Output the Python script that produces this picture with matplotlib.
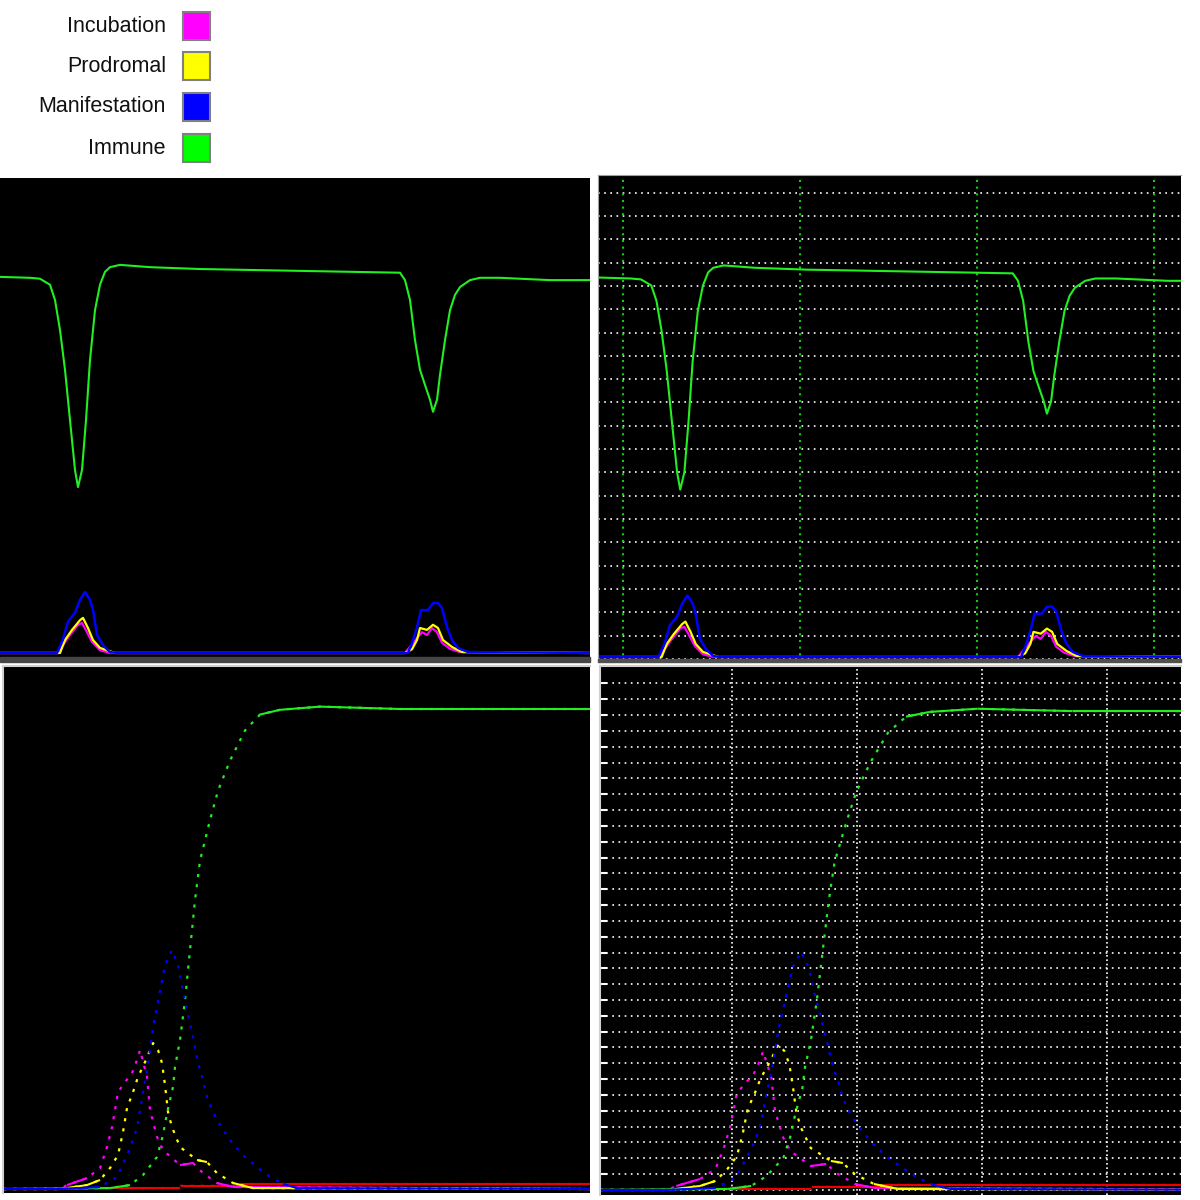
import numpy as np
import matplotlib
matplotlib.use('Agg')
from matplotlib import pyplot as plt
from matplotlib.patches import Rectangle

# legend
labels = ['Incubation', 'Prodromal', 'Manifestation', 'Immune']
colors = ['#ff00ff', '#ffff00', '#0000ff', '#00ff00']

# top panels: two outbreaks (x = day, y = % of population)
imm_top_x = [0, 30, 40, 50, 55, 60, 65, 70, 75, 78, 82, 86, 90, 95, 100, 105, 110, 120, 150, 200, 250, 300,
             350, 400, 405, 410, 415, 420, 425, 430, 433, 437, 440, 445, 450, 455, 460, 470, 480, 500, 550, 590]
imm_top_v = [81.4, 81.2, 81.0, 79.7, 76.4, 69.9, 61.3, 50.4, 39.6, 35.9, 39.6, 50.4, 63.4, 74.2, 79.7, 82.5,
             83.5, 84.0, 83.5, 83.1, 82.9, 82.7, 82.5, 82.3, 80.7, 76.4, 67.7, 61.3, 58.0, 54.8, 52.2, 54.8,
             60.2, 67.7, 74.2, 77.5, 79.2, 80.7, 81.2, 81.2, 80.7, 80.7]
man_top_x = [0, 57, 63, 68, 75, 80, 85, 90, 93, 97, 103, 110, 117,
             400, 408, 413, 417, 421, 428, 433, 438, 442, 447, 452, 458, 468, 590]
man_top_v = [0, 0, 3.0, 6.8, 8.7, 11.5, 13.2, 11.5, 9.3, 3.9, 1.7, 0.2, 0,
             0, 0, 2.8, 5.6, 9.3, 9.3, 10.8, 10.8, 9.7, 5.6, 2.8, 1.1, 0.2, 0]
pro_top_x = [0, 60, 65, 72, 80, 83, 88, 93, 100, 115,
             405, 412, 417, 420, 427, 433, 438, 443, 452, 462, 590]
pro_top_v = [0, 0, 2.8, 5.0, 7.1, 7.6, 5.4, 2.8, 1.1, 0,
             0, 0.8, 2.8, 5.4, 5.0, 6.1, 5.4, 2.8, 1.3, 0.2, 0]
inc_top_x = [0, 57, 63, 70, 78, 82, 87, 92, 100, 110,
             405, 413, 422, 427, 432, 437, 442, 450, 460, 590]
inc_top_v = [0, 0, 1.7, 3.9, 6.1, 6.5, 4.5, 2.4, 0.6, 0,
             0, 2.2, 4.5, 3.9, 5.4, 4.5, 2.2, 0.9, 0.2, 0]

# bottom panels: single outbreak
imm_bot_x = [3, 110, 130, 143, 157, 163, 167, 173, 175, 180, 185, 190, 195, 200, 210, 218, 230, 245, 260, 280,
             320, 400, 590]
imm_bot_v = [0, 0.06, 0.25, 0.88, 2.02, 3.40, 4.79, 6.43, 7.69, 9.39, 11.9, 15.06, 18.2, 20.7, 23.25, 25.1,
             27.0, 28.9, 29.9, 30.2, 30.4, 30.25, 30.25]
man_bot_x = [3, 60, 100, 117, 130, 137, 143, 147, 150, 153, 160, 165, 172, 178, 183, 187, 193, 197, 200, 203,
             207, 212, 220, 230, 243, 257, 270, 283, 297, 590]
man_bot_v = [0, 0, 0.13, 0.76, 2.58, 3.84, 6.11, 7.5, 8.76, 10.2, 12.5, 14.1, 15.06, 14.1, 12.5, 11.3, 9.58,
             8.25, 7.5, 6.87, 5.8, 4.98, 4.03, 3.09, 2.14, 1.39, 0.76, 0.32, 0.06, 0]
pro_bot_x = [3, 60, 87, 100, 110, 118, 123, 127, 133, 138, 145, 153, 158, 162, 165, 168, 172, 180, 197, 207,
             217, 233, 253, 590]
pro_bot_v = [0, 0, 0.25, 0.57, 1.32, 2.14, 3.59, 5.1, 6.11, 7.06, 8.0, 9.2, 8.76, 7.94, 6.55, 4.85, 3.9, 2.65,
             1.83, 1.7, 1.0, 0.38, 0.06, 0]
inc_bot_x = [3, 60, 67, 87, 100, 107, 112, 115, 118, 125, 132, 137, 140, 147, 150, 157, 163, 180, 193, 203,
             217, 233, 590]
inc_bot_v = [0, 0, 0.25, 0.69, 1.32, 2.65, 3.9, 4.98, 6.11, 6.74, 7.3, 8.13, 8.76, 7.06, 4.98, 3.28, 2.46,
             1.51, 1.64, 1.0, 0.38, 0.13, 0]
dead_bot_x = [100, 180, 181, 240, 241, 590]
dead_bot_v = [0.06, 0.06, 0.2, 0.2, 0.32, 0.32]

W = 1200.0
fig = plt.figure(figsize=(12, 12), dpi=100)
fig.patch.set_facecolor('white')


def box(x0, y0, x1, y1):
    # pixel box -> axes
    ax = fig.add_axes([x0 / W, 1 - y1 / W, (x1 - x0) / W, (y1 - y0) / W])
    ax.set_facecolor('black')
    ax.set_xticks([])
    ax.set_yticks([])
    for s in ax.spines.values():
        s.set_visible(False)
    return ax


def draw_top(ax):
    ax.plot(inc_top_x, inc_top_v, color=colors[0], lw=1.6)
    ax.plot(pro_top_x, pro_top_v, color=colors[1], lw=1.6)
    ax.plot(man_top_x, man_top_v, color=colors[2], lw=1.8)
    ax.plot(imm_top_x, imm_top_v, color='#22ee22', lw=1.5)


def sparse_line(ax, x, y, c):
    # steep parts look broken up, flat parts solid (like the coarse time steps in the original)
    x = np.asarray(x, float)
    y = np.asarray(y, float)
    ax.plot(x, y, color=c, lw=1.6, linestyle=(0, (1.4, 3.2)))
    slope = np.abs(np.diff(y) / np.diff(x))
    for i in np.where(slope < 0.03)[0]:
        ax.plot(x[i:i + 2], y[i:i + 2], color=c, lw=1.5, solid_capstyle='butt')


def draw_bot(ax):
    sparse_line(ax, dead_bot_x, dead_bot_v, '#ee0000')
    sparse_line(ax, inc_bot_x, inc_bot_v, colors[0])
    sparse_line(ax, pro_bot_x, pro_bot_v, colors[1])
    sparse_line(ax, imm_bot_x, imm_bot_v, '#22ee22')
    sparse_line(ax, man_bot_x, man_bot_v, colors[2])


dots = (0, (1, 2.7))

# top left
ax1 = box(0, 178, 590, 662)
ax1.set_xlim(0, 590)
ax1.set_ylim(-1.95, 102.8)
draw_top(ax1)

# top right, with grid
ax2 = box(598, 175, 1181, 662)
ax2.set_xlim(-1.6, 562.8)
ax2.set_ylim(-1.07, 103.4)
for k in range(21):
    ax2.axhline(-0.4 + 5 * k, color='white', lw=1.2, linestyle=dots, zorder=1)
for k in range(4):
    ax2.axvline(22.6 + 171.3 * k, color='#11cc11', lw=1.5, linestyle=(0, (1, 2.2)), zorder=1)
draw_top(ax2)
for s in ['top', 'left']:
    ax2.spines[s].set_visible(True)
    ax2.spines[s].set_color('#a0a0a0')

# grey strips under the top panels
fig.add_artist(Rectangle((0, 1 - 662 / W), 590 / W, 5 / W, transform=fig.transFigure, color='#454545'))
fig.add_artist(Rectangle((598 / W, 1 - 662 / W), 583 / W, 3 / W, transform=fig.transFigure, color='#505050'))

# bottom left
ax3 = box(3, 666, 590, 1193)
ax3.set_xlim(3, 590)
ax3.set_ylim(-0.25, 32.96)
draw_bot(ax3)
for s in ['top', 'left']:
    ax3.spines[s].set_visible(True)
    ax3.spines[s].set_color('#d0d0d0')
    ax3.spines[s].set_linewidth(1.5)

# bottom right, with grid
ax4 = box(600, 666, 1181, 1195)
ax4.set_xlim(3, 491)
ax4.set_ylim(-0.32, 33.1)
for k in range(33):
    ax4.axhline(k, color='white', lw=1.2, linestyle=dots, zorder=1)
for k in range(4):
    ax4.axvline(114 + 105 * k, color='white', lw=1.2, linestyle=(0, (1, 1.6)), zorder=1)
ax4.set_yticks(range(33))
ax4.tick_params(axis='y', direction='in', length=5, width=1.5, color='white', labelleft=False)
draw_bot(ax4)
for s in ['top', 'left']:
    ax4.spines[s].set_visible(True)
    ax4.spines[s].set_color('#d0d0d0')
    ax4.spines[s].set_linewidth(1.5)

# legend at top left
rows_y = [26, 66, 107, 148]
for lab, c, yc in zip(labels, colors, rows_y):
    fig.text(166 / W, 1 - yc / W, lab, ha='right', va='center', fontsize=15.5, color='#111111',
             family=['Liberation Sans Narrow', 'Liberation Sans', 'DejaVu Sans'])
    fig.add_artist(Rectangle((183 / W, 1 - (yc + 14) / W), 27 / W, 28 / W, transform=fig.transFigure,
                             facecolor=c, edgecolor='#808080', lw=1.5))

plt.savefig('out.png', dpi=100, facecolor='white')
